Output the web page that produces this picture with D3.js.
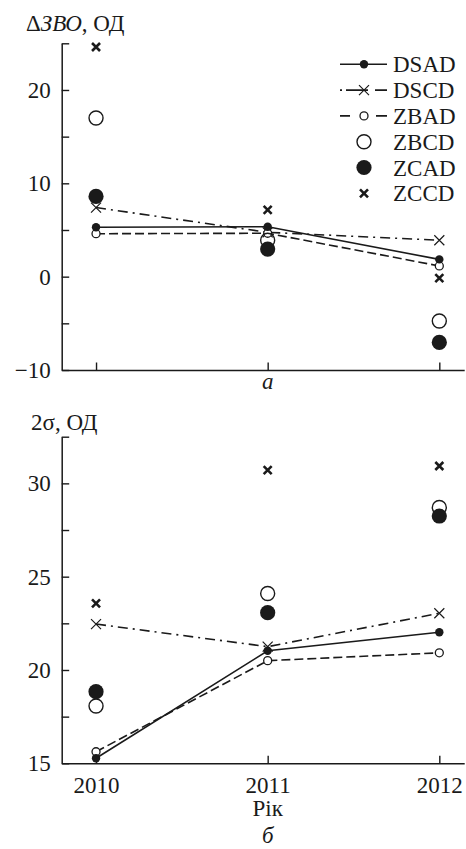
<!DOCTYPE html>
<html>
<head>
<meta charset="utf-8">
<script src="https://cdn.jsdelivr.net/npm/d3@7"></script>
<style>
  html, body { margin: 0; padding: 0; background: #fff; }
  svg { display: block; }
  text { font-family: "Liberation Serif", "Times New Roman", serif; fill: #1a1a1a; }
</style>
</head>
<body>
<svg id="chart" width="466" height="849"></svg>
<script>
// Years on the horizontal axis
const years = [2010, 2011, 2012];
const seriesNames = ["DSAD", "DSCD", "ZBAD", "ZBCD", "ZCAD", "ZCCD"];

// Panel "а": ΔЗВО, ОД
const dzvoDSAD = [5.3, 5.35, 1.85];
const dzvoDSCD = [7.4, 4.75, 3.9];
const dzvoZBAD = [4.6, 4.65, 1.15];
const dzvoZBCD = [17.0, 3.9, -4.75];
const dzvoZCAD = [8.6, 2.95, -7.05];
const dzvoZCCD = [24.6, 7.15, -0.15];

// Panel "б": 2σ, ОД
const sigmaDSAD = [15.27, 21.03, 22.02];
const sigmaDSCD = [22.46, 21.25, 23.04];
const sigmaZBAD = [15.62, 20.5, 20.92];
const sigmaZBCD = [18.07, 24.1, 28.71];
const sigmaZCAD = [18.84, 23.07, 28.25];
const sigmaZCCD = [23.57, 30.71, 30.93];

// Tick values
const dzvoTicks = [-10, -5, 0, 5, 10, 15, 20, 25];
const dzvoLabels = [-10, 0, 10, 20];
const sigmaTicks = [15, 17.5, 20, 22.5, 25, 27.5, 30, 32.5];
const sigmaLabels = [15, 20, 25, 30];

const ink = "#1a1a1a";
const fontSize = 23;
const svg = d3.select("#chart");

// Line style per series (series without a style are drawn as points only)
const lineStyle = {
  DSAD: { dash: null, legendDash: null },
  DSCD: { dash: "10,5,2,5", legendDash: "2,4,22,7,12" },
  ZBAD: { dash: "9,4", legendDash: "10,26,11" }
};

function drawMarker(g, name, cx, cy) {
  if (name === "DSAD") {
    g.append("circle").attr("cx", cx).attr("cy", cy).attr("r", 4.2).attr("fill", ink);
  } else if (name === "ZBAD") {
    g.append("circle").attr("cx", cx).attr("cy", cy).attr("r", 4).attr("fill", "#fff")
      .attr("stroke", ink).attr("stroke-width", 1.3);
  } else if (name === "DSCD") {
    const s = 5;
    g.append("path").attr("d", `M${cx - s},${cy - s}L${cx + s},${cy + s}M${cx - s},${cy + s}L${cx + s},${cy - s}`)
      .attr("stroke", ink).attr("stroke-width", 1.2).attr("fill", "none");
  } else if (name === "ZBCD") {
    g.append("circle").attr("cx", cx).attr("cy", cy).attr("r", 7).attr("fill", "none")
      .attr("stroke", ink).attr("stroke-width", 1.4);
  } else if (name === "ZCAD") {
    g.append("circle").attr("cx", cx).attr("cy", cy).attr("r", 7.6).attr("fill", ink);
  } else if (name === "ZCCD") {
    const s = 4;
    g.append("path").attr("d", `M${cx - s},${cy - s}L${cx + s},${cy + s}M${cx - s},${cy + s}L${cx + s},${cy - s}`)
      .attr("stroke", ink).attr("stroke-width", 2.6).attr("fill", "none");
  }
}

const x = d3.scaleLinear().domain([2009.8, 2012.145]).range([61.7, 464.2]);

function drawPanel(opts) {
  const g = svg.append("g");
  const y = d3.scaleLinear().domain(opts.domain).range(opts.range);

  // y axis: inward ticks, labels only on selected values
  const yAxis = d3.axisLeft(y)
    .tickValues(opts.ticks)
    .tickSizeInner(-7.5)
    .tickSizeOuter(0)
    .tickPadding(11)
    .tickFormat(d => opts.labels.includes(d) ? (d < 0 ? "\u2212" + Math.abs(d) : String(d)) : "");
  const ya = g.append("g").attr("transform", `translate(${x.range()[0]},0)`).call(yAxis);

  // x axis: inward ticks
  const xAxis = d3.axisBottom(x)
    .tickValues(years)
    .tickSizeInner(-7.5)
    .tickSizeOuter(0)
    .tickPadding(13)
    .tickFormat(opts.xLabels ? d3.format("d") : () => "");
  const xa = g.append("g").attr("transform", `translate(0,${opts.range[0]})`).call(xAxis);

  [ya, xa].forEach(a => {
    a.selectAll("path.domain").attr("stroke", ink).attr("stroke-width", 1.5);
    a.selectAll(".tick line").attr("stroke", ink).attr("stroke-width", 1.4);
    a.selectAll(".tick text").attr("font-size", fontSize)
      .attr("font-family", "Liberation Serif").attr("fill", ink);
  });

  // connected series
  const line = d3.line().x((d, i) => x(years[i])).y(d => y(d));
  ["DSCD", "ZBAD", "DSAD"].forEach(name => {
    g.append("path").datum(opts.data[name]).attr("d", line)
      .attr("fill", "none").attr("stroke", ink).attr("stroke-width", 1.6)
      .attr("stroke-dasharray", lineStyle[name].dash);
  });

  // markers
  ["DSCD", "ZBAD", "DSAD", "ZBCD", "ZCAD", "ZCCD"].forEach(name => {
    opts.data[name].forEach((v, i) => drawMarker(g, name, x(years[i]), y(v)));
  });

  // y-axis title
  const t = g.append("text").attr("x", opts.titleX).attr("y", opts.titleY).attr("font-size", fontSize);
  opts.title.forEach(part => t.append("tspan").attr("font-style", part.italic ? "italic" : "normal").text(part.text));

  // panel letter
  g.append("text").attr("x", x(2011)).attr("y", opts.letterY).attr("text-anchor", "middle")
    .attr("font-size", fontSize).attr("font-style", "italic").text(opts.letter);

  return { g, y };
}

const panelA = drawPanel({
  domain: [-10, 25], range: [370, 43.3],
  ticks: dzvoTicks, labels: dzvoLabels, xLabels: false,
  data: { DSAD: dzvoDSAD, DSCD: dzvoDSCD, ZBAD: dzvoZBAD, ZBCD: dzvoZBCD, ZCAD: dzvoZCAD, ZCCD: dzvoZCCD },
  title: [{ text: "\u0394" }, { text: "ЗВО", italic: true }, { text: ", ОД" }],
  titleX: 26, titleY: 31,
  letter: "а", letterY: 389
});

const panelB = drawPanel({
  domain: [15, 32.5], range: [763.3, 436.7],
  ticks: sigmaTicks, labels: sigmaLabels, xLabels: true,
  data: { DSAD: sigmaDSAD, DSCD: sigmaDSCD, ZBAD: sigmaZBAD, ZBCD: sigmaZBCD, ZCAD: sigmaZCAD, ZCCD: sigmaZCCD },
  title: [{ text: "2σ, ОД" }],
  titleX: 31, titleY: 430,
  letter: "б", letterY: 843
});

// x-axis title
svg.append("text").attr("x", x(2011)).attr("y", 816).attr("text-anchor", "middle")
  .attr("font-size", fontSize).text("Рік");

// legend
const legend = svg.append("g");
const legY = d3.scalePoint().domain(seriesNames).range([64.3, 193.3]);
seriesNames.forEach(name => {
  const ly = legY(name);
  if (lineStyle[name]) {
    legend.append("line").attr("x1", 340).attr("x2", 387).attr("y1", ly).attr("y2", ly)
      .attr("stroke", ink).attr("stroke-width", 1.6)
      .attr("stroke-dasharray", lineStyle[name].legendDash);
  }
  drawMarker(legend, name, 364, ly);
  legend.append("text").attr("x", 393).attr("y", ly + 8).attr("font-size", fontSize).text(name);
});
</script>
</body>
</html>
